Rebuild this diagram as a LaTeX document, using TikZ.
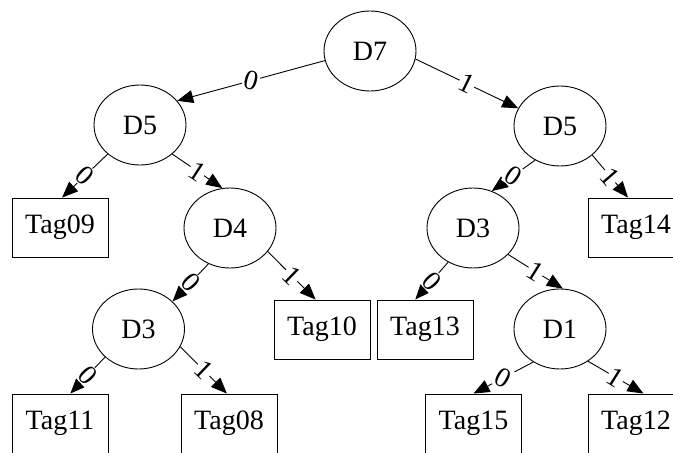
\documentclass[tikz,border=0pt]{standalone}
\usepackage{fontspec}
\setmainfont{Liberation Serif}
\usetikzlibrary{shapes,arrows.meta}
\tikzset{
test/.style={ellipse, draw, line width=0.9pt, minimum width=92pt, minimum height=80pt, inner sep=0pt},
leaf/.style={rectangle, draw, line width=0.9pt, minimum width=96pt, minimum height=59pt, inner sep=0pt},
branch/.style={line width=0.9pt, -{Triangle[length=16pt,width=13pt]}},
bit/.style={midway, fill=white, inner sep=1pt}
}

\begin{document}
\begin{tikzpicture}[x=1pt, y=-1pt, font=\fontsize{28}{32}\selectfont]
\path[use as bounding box, clip] (0,0) rectangle (673,453);
% decision nodes
\node[test] (D7) at (370,51) {D7};
\node[test] (D5L) at (140,125) {D5};
\node[test] (D5R) at (560,126) {D5};
\node[test] (D4) at (230,228) {D4};
\node[test] (D3R) at (473,228) {D3};
\node[test] (D3L) at (138.5,329) {D3};
\node[test] (D1) at (560,329) {D1};
% leaves
\node[leaf] (Tag09) at (60,227.5) {Tag09};
\node[leaf] (Tag14) at (636,227.5) {Tag14};
\node[leaf] (Tag10) at (322,329.5) {Tag10};
\node[leaf] (Tag13) at (425,329.5) {Tag13};
\node[leaf] (Tag11) at (60,423.5) {Tag11};
\node[leaf] (Tag08) at (229,423.5) {Tag08};
\node[leaf] (Tag15) at (473.5,423.5) {Tag15};
\node[leaf] (Tag12) at (636,423.5) {Tag12};
% branches
\draw[branch] (D7.192) -- node[bit, rotate=-15] {0} (D5L.33);
\draw[branch] (D7.-10) -- node[bit, rotate=-26] {1} (D5R.157);
\draw[branch] (D5L.222) -- node[bit, rotate=-43] {0} (Tag09.86);
\draw[branch] (D5L.-42) -- node[bit, rotate=-33] {1} (D4.101);
\draw[branch] (D5R.234) -- node[bit, rotate=-34] {0} (D3R.63);
\draw[branch] (D5R.-42) -- node[bit, rotate=-49] {1} (Tag14.105);
\draw[branch] (D4.239) -- node[bit, rotate=-47] {0} (D3L.39);
\draw[branch] (D4.-32) -- node[bit, rotate=-44] {1} (Tag10.102);
\draw[branch] (D3L.220) -- node[bit, rotate=-47] {0} (Tag11.71);
\draw[branch] (D3L.-23.5) -- node[bit, rotate=-44] {1} (Tag08.94);
\draw[branch] (D3R.234.5) -- node[bit, rotate=-47] {0} (Tag13.108);
\draw[branch] (D3R.-37.6) -- node[bit, rotate=-32] {1} (D1.86);
\draw[branch] (D1.231) -- node[bit, rotate=-29] {0} (Tag15.90);
\draw[branch] (D1.-49) -- node[bit, rotate=-32] {1} (Tag12.76);
\end{tikzpicture}
\end{document}
